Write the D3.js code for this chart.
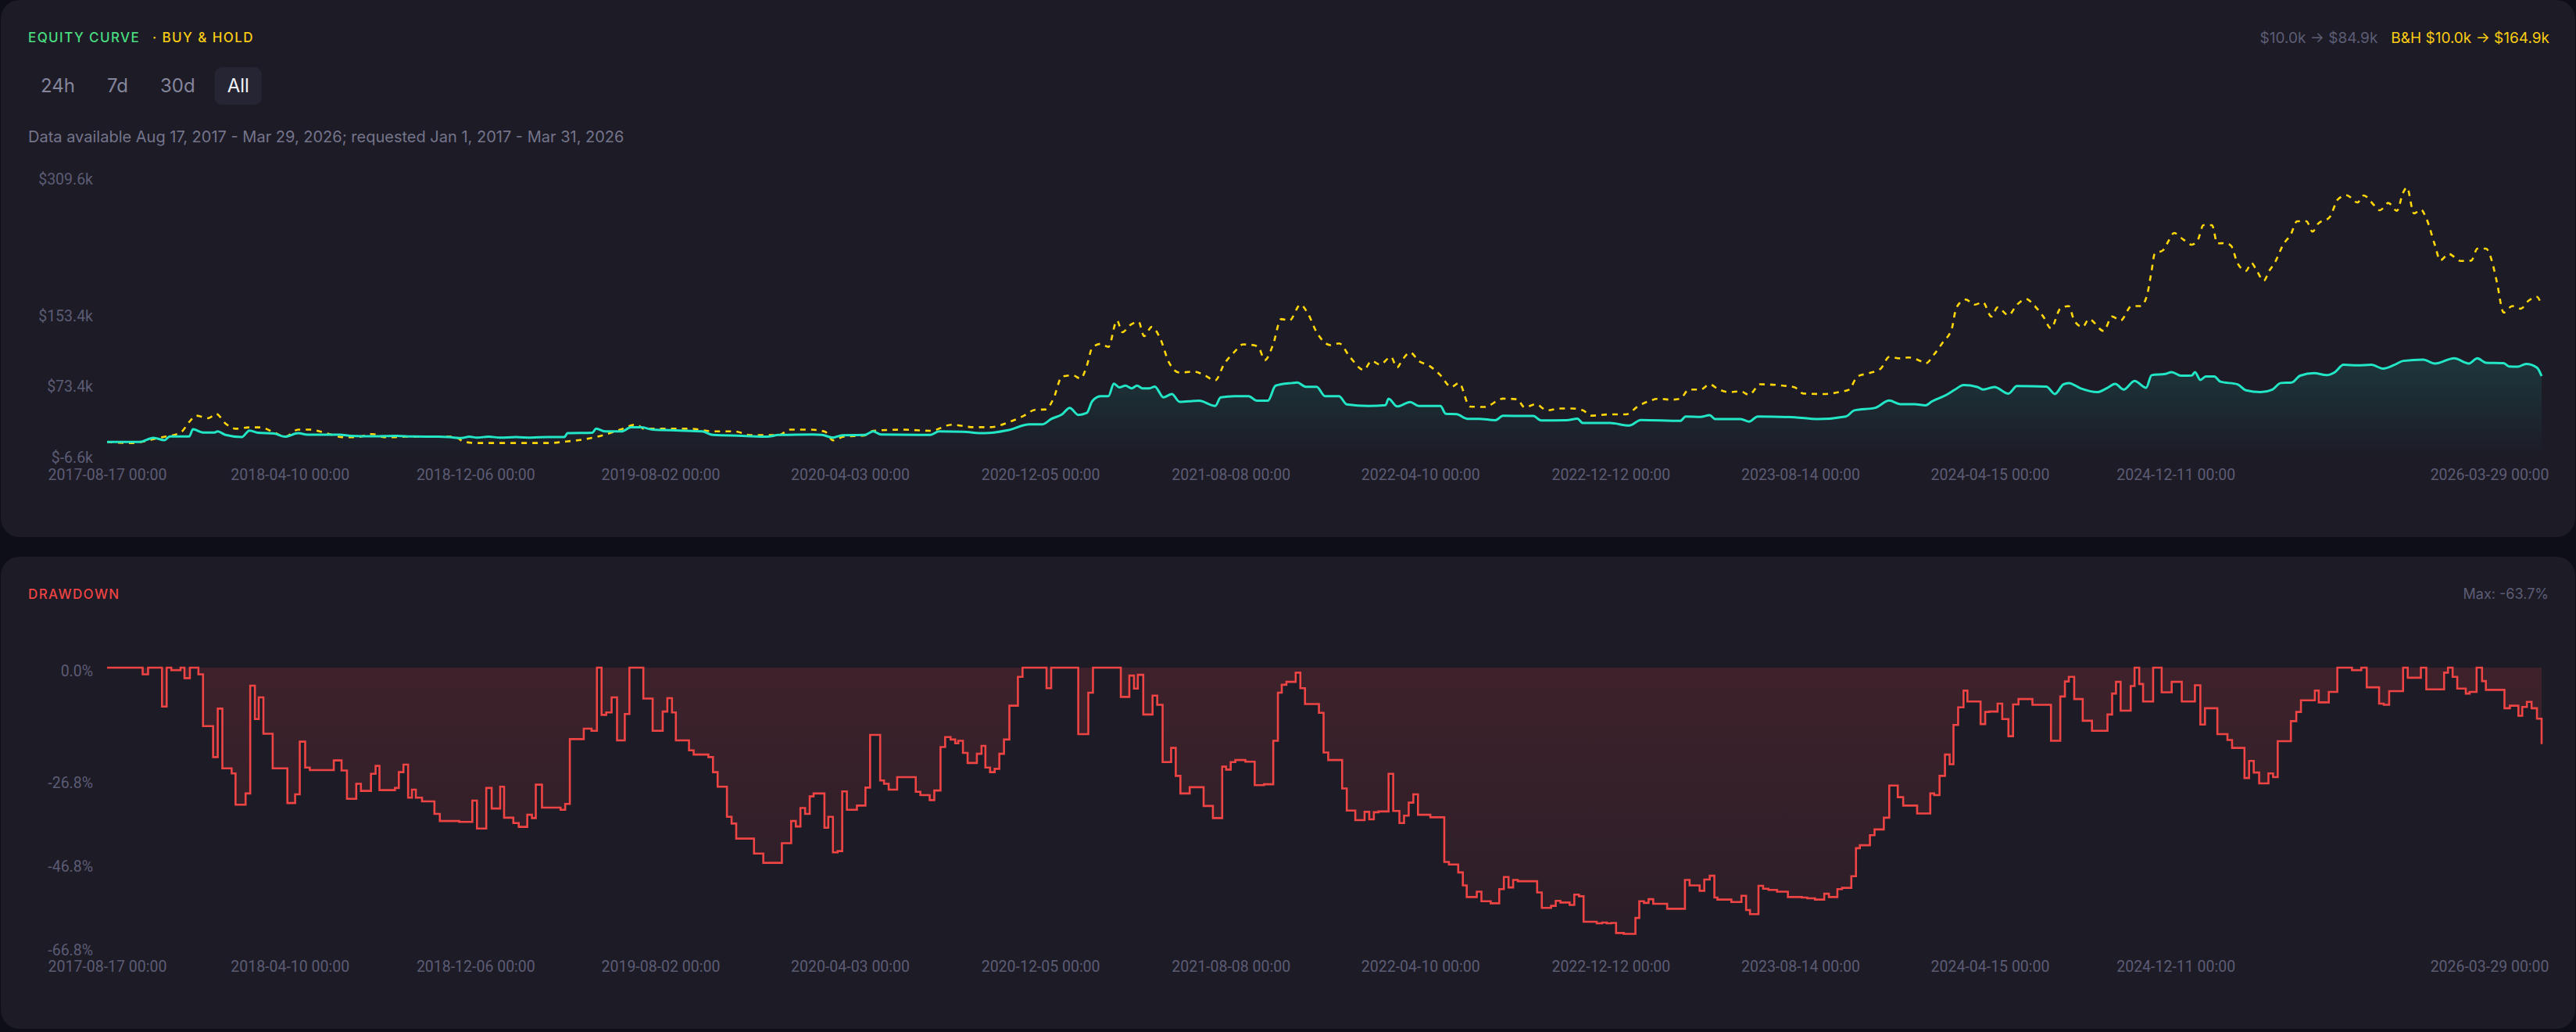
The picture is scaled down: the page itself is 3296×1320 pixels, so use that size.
<!DOCTYPE html>
<html>
<head>
<meta charset="utf-8">
<script src="https://cdn.jsdelivr.net/npm/d3@7"></script>
<style>
  html, body { margin: 0; padding: 0; background: #0e0e16; overflow: hidden; }
  svg { display: block; font-family: Inter, "Noto Sans", sans-serif; }
</style>
</head>
<body>
<svg id="chart" width="3296" height="1320"></svg>
<script>
// ---- data (days counted from the first bar, 2017-08-17) ----
const firstDay = '2017-08-17';
const lastDay = '2026-03-29';
const tickDates = ['2017-08-17', '2018-04-10', '2018-12-06', '2019-08-02', '2020-04-03', '2020-12-05',
  '2021-08-08', '2022-04-10', '2022-12-12', '2023-08-14', '2024-04-15', '2024-12-11', '2026-03-29'];
const rangeButtons = ['24h', '7d', '30d', 'All'];
const equityTicks = [-6.6, 73.4, 153.4, 309.6];
const drawdownTicks = [0, -26.8, -46.8, -66.8];

const equityDays = [0,42,60,74,81,106,111,124,138,143,
  153,174,184,195,216,230,247,259,301,315,
  346,372,397,428,442,458,468,478,493,508,
  528,548,569,591,595,627,632,644,665,677,
  691,705,740,769,783,821,853,868,912,924,
  938,950,979,990,1000,1064,1075,1106,1134,1164,
  1192,1209,1220,1234,1244,1255,1266,1273,1284,1294,
  1301,1308,1316,1324,1331,1338,1347,1354,1365,1376,
  1386,1411,1432,1439,1457,1475,1486,1500,1510,1531,
  1538,1549,1563,1574,1592,1602,1630,1652,1656,1667,
  1684,1695,1723,1730,1744,1758,1773,1794,1804,1843,
  1853,1886,1900,1907,1942,1967,1982,2033,2040,2059,
  2071,2078,2111,2122,2133,2181,2210,2247,2258,2285,
  2303,2317,2336,2350,2358,2377,2388,2399,2417,2424,
  2439,2457,2468,2506,2517,2528,2535,2550,2572,2584,
  2595,2606,2620,2635,2642,2660,2668,2680,2694,2698,
  2705,2712,2723,2731,2753,2764,2783,2798,2809,2823,
  2834,2852,2868,2879,2890,2908,2926,2941,2956,2967,
  2993,3008,3033,3052,3063,3074,3097,3104,3115,3126,
  3140,3146];
const equityValues = [10,10,14.7,12,16.2,16.2,24.5,20.7,20.7,22,
  18,15.6,23,20.5,19.5,16,20,18.3,18.3,17,
  16.5,17,16.2,16,15.5,14.5,16,15,16,15,
  15.5,15,15.7,15.7,20,20.5,25.1,22,22,26.6,
  26.6,24,23,22,18,17,16,18,18.5,18,
  15,17.7,18,22.1,18.5,18,22,21.5,20,23.3,
  30.1,30.1,36.1,41.4,48.8,40.8,43,56.3,62.1,62.1,
  76.3,72,74,71,74,71,71,73,60.7,64.5,
  55.6,56.8,50.9,60.7,62.1,62.1,56.8,56.8,74,77,
  77.6,72.7,72.7,62,62,52.7,50.9,51.8,59.2,50.4,
  55.3,50.9,50.9,42,41.5,36.3,36.3,34.7,39.7,39.5,
  34.5,34.8,36.5,31.5,31.5,28.7,35,34,39,38.5,
  40.5,36,36,33.1,39,38,36,39,45.9,48.8,
  57.1,53,53,51.6,56,63.6,69.5,74.6,72.5,69.5,
  72.5,65,73.6,73,64.5,75.5,77,71,66.6,71,
  76,69.5,79.4,71.6,85.9,87.4,89.4,85.3,85.5,89.4,
  80.5,84.4,84.4,78.5,75.5,68.7,66.6,69.5,77,77.5,
  85.3,88.2,86,89.4,97.7,97,97.7,93.4,97.7,102.1,
  103.6,99,105.1,99.2,105,100,99.5,95.8,95.5,98.7,
  94.5,84.9];

const holdDays = [0,31,67,95,106,115,131,141,153,167,
  184,198,216,230,247,262,287,304,322,343,
  358,372,386,449,461,478,571,591,623,641,
  663,684,694,726,754,783,811,832,868,882,
  910,928,938,952,979,990,1028,1064,1092,1120,
  1141,1167,1185,1199,1213,1223,1234,1248,1258,1266,
  1273,1284,1294,1305,1312,1322,1333,1340,1350,1361,
  1372,1386,1404,1418,1432,1443,1457,1468,1482,1489,
  1496,1507,1517,1528,1542,1552,1563,1581,1592,1606,
  1624,1634,1645,1659,1667,1674,1684,1695,1709,1723,
  1737,1747,1761,1780,1804,1822,1832,1846,1861,1876,
  1893,1907,1918,1942,1963,1978,1992,2006,2020,2033,
  2044,2059,2071,2082,2096,2111,2122,2136,2166,2181,
  2192,2218,2240,2251,2262,2277,2292,2303,2317,2328,
  2343,2350,2361,2372,2384,2388,2395,2402,2413,2424,
  2435,2443,2457,2468,2480,2491,2502,2512,2524,2535,
  2542,2553,2561,2580,2591,2602,2616,2628,2636,2642,
  2646,2657,2664,2671,2683,2694,2702,2709,2720,2727,
  2738,2745,2753,2764,2771,2778,2787,2794,2801,2812,
  2822,2830,2842,2850,2857,2872,2883,2894,2908,2916,
  2930,2937,2948,2959,2967,2972,2981,2990,2997,3008,
  3015,3026,3041,3055,3063,3074,3081,3088,3097,3108,
  3119,3129,3140,3146];
const holdValues = [10,8.8,14.7,20.7,32.5,39.9,37,42,31,25,
  26.6,26.6,20.7,16,24,24,19,15.5,15.5,19,
  15.5,15.5,16,16,10.3,8.8,8.8,10.3,14,17.7,
  24,29.8,25,25,25,22,22,17.7,17.7,24,
  24,21.6,11.9,16,17.5,22.7,24,22.7,29.6,26.8,
  26.8,33.1,39.9,46.5,47,59.2,84.4,85.8,82,96.3,
  117,121.4,118,148,134.7,142.7,146.6,130.3,140.7,127.4,
  100.7,88.8,90,86,79.9,97.7,112.5,120.8,120,116,
  103,121.4,149.6,148,165.9,155.5,134.8,120,122,106.6,
  91.8,102,98,106.6,94.7,103.6,111.6,102,96.3,85.9,
  72.5,77,50.3,49.8,59.2,58.5,49.2,53,45.9,48,
  48,46,39.9,41.4,41.4,50.3,56.3,59.2,58,59.2,
  69.5,69.5,75.5,70,66.6,67.5,63.6,75.5,74,72,
  65,64.5,67,69.5,84.4,88.2,93.4,106.6,105,106,
  102.1,99.2,109.5,122.9,139.2,157,168.8,171.8,165.9,168.8,
  152.5,162.9,154,165.9,172.4,164.4,152.5,139.2,161.4,164.4,
  148,140.7,149.6,136.2,152.5,148,164.4,164.4,176.3,204.4,
  223.7,228,238.5,247.4,240,234.1,240,256.3,256.3,235.6,
  236,232.6,213.3,204.4,213.3,204.4,193.1,204.4,213.3,234.1,
  246,260.7,260.7,249,257.8,265.2,285.9,290.3,282.1,290,
  278.5,273.2,281.5,272.6,293.3,299.2,269.6,274,264,234.1,
  216.3,223.7,215.7,216,229.7,229.7,217.8,192.5,157,164.4,
  161.4,170.3,174.8,165];

const ddDays = [0,46,53,71,77,83,95,100,107,118,
  124,137,143,149,161,166,179,185,191,196,
  202,214,233,243,249,256,262,293,303,310,
  322,328,341,347,352,372,377,383,389,394,
  399,407,423,430,455,472,478,490,497,508,
  513,525,532,543,549,554,562,586,592,598,
  616,626,633,639,645,652,659,669,675,693,
  705,718,724,730,735,752,758,777,783,789,
  801,807,813,836,848,872,884,890,896,902,
  908,913,927,932,938,944,950,956,969,980,
  986,999,1004,1010,1021,1045,1051,1063,1069,1077,
  1083,1090,1096,1100,1106,1112,1124,1130,1135,1141,
  1147,1153,1159,1166,1177,1183,1214,1220,1255,1268,
  1274,1310,1321,1327,1332,1339,1351,1357,1364,1375,
  1381,1387,1399,1417,1429,1441,1446,1452,1458,1471,
  1483,1495,1507,1513,1518,1524,1536,1542,1548,1566,
  1572,1578,1596,1602,1613,1625,1631,1637,1643,1656,
  1662,1670,1676,1682,1688,1694,1710,1728,1734,1746,
  1752,1757,1770,1776,1788,1799,1805,1811,1817,1823,
  1848,1854,1866,1872,1878,1890,1896,1902,1908,1925,
  1932,1938,1944,1950,1960,1975,1980,1986,1992,1998,
  2016,2039,2045,2058,2064,2071,2077,2081,2099,2112,
  2118,2123,2134,2140,2147,2158,2172,2190,2197,2207,
  2219,2225,2236,2242,2254,2260,2265,2278,2284,2296,
  2303,2314,2321,2339,2356,2361,2368,2375,2381,2386,
  2392,2399,2404,2421,2427,2432,2443,2449,2457,2463,
  2470,2488,2512,2524,2530,2535,2542,2553,2565,2585,
  2591,2596,2602,2615,2620,2626,2631,2644,2655,2668,
  2681,2698,2705,2711,2727,2740,2746,2762,2768,2774,
  2781,2793,2799,2805,2822,2829,2835,2853,2858,2871,
  2882,2901,2913,2920,2936,2942,2949,2967,2973,2990,
  2997,3020,3025,3031,3037,3048,3053,3062,3069,3074,
  3098,3105,3116,3121,3127,3133,3140,3146];
const ddValues = [0,-1.6,0,-9.3,0,-0.6,0,-2.5,0,-1.6,
  -14,-21.4,-9.8,-24.1,-25.3,-32.8,-30.1,-4.3,-12.3,-7.1,
  -15.8,-24.1,-32.4,-30.3,-17.7,-23.9,-24.5,-22.2,-24.6,-31.4,
  -27.8,-29.5,-25.4,-23.5,-29.3,-28.8,-25,-23.2,-31.1,-29.2,
  -31.1,-32,-35,-36.7,-36.9,-31.8,-38.5,-28.8,-33.7,-28.5,
  -35.9,-37.2,-38.1,-35.2,-36,-28,-33.5,-34,-32.6,-17.1,
  -14.6,-15.1,0,-11.3,-10.7,-7.1,-17.4,-11.1,0,-7.4,
  -15.1,-10.5,-7.3,-10.7,-17.4,-19.8,-20.8,-21.4,-25,-28.5,
  -35.7,-37.3,-40.9,-44.5,-46.7,-42,-36.7,-38,-33.6,-35,
  -30.8,-30.1,-38.3,-35.7,-44.2,-43.9,-29.6,-34,-33,-28.7,
  -16.1,-27,-27.8,-29.2,-26.2,-29.7,-30.5,-31.7,-29.4,-19,
  -16.6,-17.2,-18.1,-17.5,-20.4,-22.8,-20.6,-18.7,-23.9,-25,
  -24.2,-20.6,-17.2,-9.1,-2.2,0,-4.9,0,-15.9,-6,
  0,-7,-1.9,-5,-1.7,-11.2,-6.7,-8.9,-22.6,-19.2,
  -25.9,-30.1,-28.6,-33.1,-36,-23.7,-24.4,-22.6,-22.1,-22.5,
  -28.1,-27.9,-17.5,-6,-4.1,-3.4,-1.2,-4.9,-8.7,-10.8,
  -20.3,-22.1,-28.9,-34.2,-36.5,-34.5,-36.3,-34.6,-34.4,-25.4,
  -34.3,-37.2,-35.4,-32.3,-30.3,-35.2,-35.8,-46.5,-47.1,-49,
  -52.1,-54.9,-53.6,-55.9,-56.4,-53,-50.1,-52.6,-50.8,-51.1,
  -53.8,-57.5,-57,-55.8,-56.2,-56.8,-54.3,-54.7,-60.8,-61.2,
  -61,-61.2,-61.1,-63.5,-63.7,-59.9,-55.9,-56.3,-55.4,-56.5,
  -57.7,-50.8,-52.1,-53.4,-50.7,-49.8,-55,-55.5,-56.1,-54.6,
  -58,-59,-52.2,-52.9,-53.2,-53.6,-54.9,-55,-55.2,-55.5,
  -54.1,-54.9,-53,-52.7,-49.9,-43.2,-42.5,-40.1,-38.7,-35.9,
  -28.2,-31,-33,-34.9,-30.1,-30.5,-25.9,-20.8,-23.1,-13.7,
  -9.5,-5.5,-8.1,-13.5,-10.6,-10.5,-8.6,-12.3,-16.4,-8.8,
  -7.5,-8.9,-17.5,-6.9,-3.3,-2.2,-7.5,-12.7,-15.1,-11.2,
  -6.2,-3.4,-10.3,-4.4,0,-3.9,-8.1,0,-5.9,-3.4,
  -8.1,-4.2,-13.6,-9.7,-15.9,-17.3,-19.2,-26.4,-22.3,-25.1,
  -27.7,-25.3,-26.2,-17.6,-12.8,-10.6,-7.8,-5.5,-8.3,-5.8,
  0,-0.6,0,-4.7,-8.6,-8.9,-5.6,0,-2.4,0,
  -5.2,-1.2,0,-2.2,-5,-6.2,-5.8,0,-3.2,-5.3,
  -9.7,-9.1,-11.5,-9.4,-8.2,-9.7,-12.2,-18.3];

// ---- setup ----
const parse = d3.utcParse('%Y-%m-%d');
const start = parse(firstDay);
const end = parse(lastDay);
const toDate = d => d3.utcDay.offset(start, d);

const equity = equityDays.map((d, i) => ({ date: toDate(d), v: equityValues[i] }));
const hold = holdDays.map((d, i) => ({ date: toDate(d), v: holdValues[i] }));
const drawdown = ddDays.map((d, i) => ({ date: toDate(d), v: ddValues[i] }));

const svg = d3.select('#chart');
const defs = svg.append('defs');

const TEAL = '#22e6c6', YELLOW = '#ffd60a', RED = '#ef4444';
const AXIS_GRAY = '#5c5c74';

function vGradient(id, color, a0, a1) {
  const g = defs.append('linearGradient').attr('id', id)
    .attr('x1', 0).attr('y1', 0).attr('x2', 0).attr('y2', 1);
  g.append('stop').attr('offset', '0%').attr('stop-color', color).attr('stop-opacity', a0);
  g.append('stop').attr('offset', '100%').attr('stop-color', color).attr('stop-opacity', a1);
}
vGradient('eqFill', TEAL, 0.14, 0);
vGradient('ddFill', RED, 0.16, 0.07);

// cards
svg.append('rect').attr('x', 1).attr('y', 0).attr('width', 3294).attr('height', 687)
  .attr('rx', 24).attr('fill', '#1c1b26');
svg.append('rect').attr('x', 1).attr('y', 712).attr('width', 3294).attr('height', 604)
  .attr('rx', 24).attr('fill', '#1c1b26');

const x = d3.scaleUtc().domain([start, end]).range([137, 3252]);
const yEq = d3.scaleLinear().domain([-6.6, 309.6]).range([584, 228]);
const yDd = d3.scaleLinear().domain([-66.8, 0]).range([1211, 854]);

// ---- header texts ----
svg.append('text').attr('x', 36).attr('y', 54)
  .attr('fill', '#4ade80').attr('font-size', 17).attr('font-weight', 500)
  .attr('letter-spacing', 1.4).text('EQUITY CURVE');
svg.append('text').attr('x', 195).attr('y', 54)
  .attr('fill', '#facc15').attr('font-size', 17).attr('font-weight', 500)
  .attr('letter-spacing', 1.4).text('· BUY & HOLD');

const bh = svg.append('text').attr('x', 3262).attr('y', 55).attr('text-anchor', 'end')
  .attr('fill', '#facc15').attr('font-size', 19).text('B&H $10.0k → $164.9k');
const bhLeft = 3262 - bh.node().getComputedTextLength();
svg.append('text').attr('x', bhLeft - 17).attr('y', 55).attr('text-anchor', 'end')
  .attr('fill', '#5d5d75').attr('font-size', 19).text('$10.0k → $84.9k');

// range buttons
let bx = 36;
rangeButtons.forEach(label => {
  const active = label === 'All';
  const g = svg.append('g');
  const t = g.append('text').attr('y', 118).attr('font-size', 24)
    .attr('fill', active ? '#f2f2f7' : '#85859c').text(label);
  const w = t.node().getComputedTextLength() + 32;
  if (active) {
    g.insert('rect', 'text').attr('x', bx).attr('y', 86).attr('width', w).attr('height', 48)
      .attr('rx', 9).attr('fill', '#262533');
  }
  t.attr('x', bx + 16);
  bx += w + 9;
});

svg.append('text').attr('x', 36).attr('y', 182).attr('fill', '#74748a').attr('font-size', 20)
  .text('Data available Aug 17, 2017 - Mar 29, 2026; requested Jan 1, 2017 - Mar 31, 2026');

// ---- axes (chart labels use Roboto) ----
const fmtDate = d3.utcFormat('%Y-%m-%d %H:%M');
function styleAxis(g) {
  g.attr('font-family', 'Roboto, sans-serif').attr('font-size', null);
  g.select('.domain').remove();
  g.selectAll('text').attr('fill', AXIS_GRAY).attr('font-size', 19.5);
}
function xAxis(yPos, pad) {
  const g = svg.append('g').attr('transform', `translate(0,${yPos})`)
    .call(d3.axisBottom(x).tickValues(tickDates.map(parse)).tickFormat(fmtDate)
      .tickSize(0).tickPadding(pad));
  styleAxis(g);
  // last label is kept inside the card
  g.selectAll('.tick').filter((d, i, n) => i === n.length - 1).select('text')
    .attr('text-anchor', 'end').attr('x', 9);
}

// ---- equity panel ----
const eqYAxis = svg.append('g').attr('transform', 'translate(119,0)')
  .call(d3.axisLeft(yEq).tickValues(equityTicks).tickFormat(v => '$' + v.toFixed(1) + 'k')
    .tickSize(0).tickPadding(0));
styleAxis(eqYAxis);
eqYAxis.selectAll('text').attr('dy', '0.36em');
xAxis(584, 16);

svg.append('path').datum(equity)
  .attr('fill', 'url(#eqFill)')
  .attr('d', d3.area().x(d => x(d.date)).y0(yEq(-6.6)).y1(d => yEq(d.v)).curve(d3.curveMonotoneX));

svg.append('path').datum(hold)
  .attr('fill', 'none').attr('stroke', YELLOW).attr('stroke-width', 2.6)
  .attr('stroke-dasharray', '7,7')
  .attr('d', d3.line().x(d => x(d.date)).y(d => yEq(d.v)).curve(d3.curveMonotoneX));

svg.append('path').datum(equity)
  .attr('fill', 'none').attr('stroke', TEAL).attr('stroke-width', 3).attr('stroke-linejoin', 'round')
  .attr('d', d3.line().x(d => x(d.date)).y(d => yEq(d.v)).curve(d3.curveMonotoneX));

// ---- drawdown panel ----
svg.append('text').attr('x', 36).attr('y', 766)
  .attr('fill', RED).attr('font-size', 17).attr('font-weight', 500)
  .attr('letter-spacing', 1.4).text('DRAWDOWN');
svg.append('text').attr('x', 3261).attr('y', 766).attr('text-anchor', 'end')
  .attr('fill', '#5d5d75').attr('font-size', 18).text('Max: -63.7%');

const ddYAxis = svg.append('g').attr('transform', 'translate(119,0)')
  .call(d3.axisLeft(yDd).tickValues(drawdownTicks).tickFormat(v => v.toFixed(1) + '%')
    .tickSize(0).tickPadding(0));
styleAxis(ddYAxis);
ddYAxis.selectAll('text').attr('dy', '0.53em');
xAxis(1211, 18);

svg.append('path').datum(drawdown)
  .attr('fill', 'url(#ddFill)')
  .attr('d', d3.area().x(d => x(d.date)).y0(yDd(0)).y1(d => yDd(d.v)).curve(d3.curveStepAfter));

svg.append('path').datum(drawdown)
  .attr('fill', 'none').attr('stroke', RED).attr('stroke-width', 2.6)
  .attr('d', d3.line().x(d => x(d.date)).y(d => yDd(d.v)).curve(d3.curveStepAfter));
</script>
</body>
</html>
